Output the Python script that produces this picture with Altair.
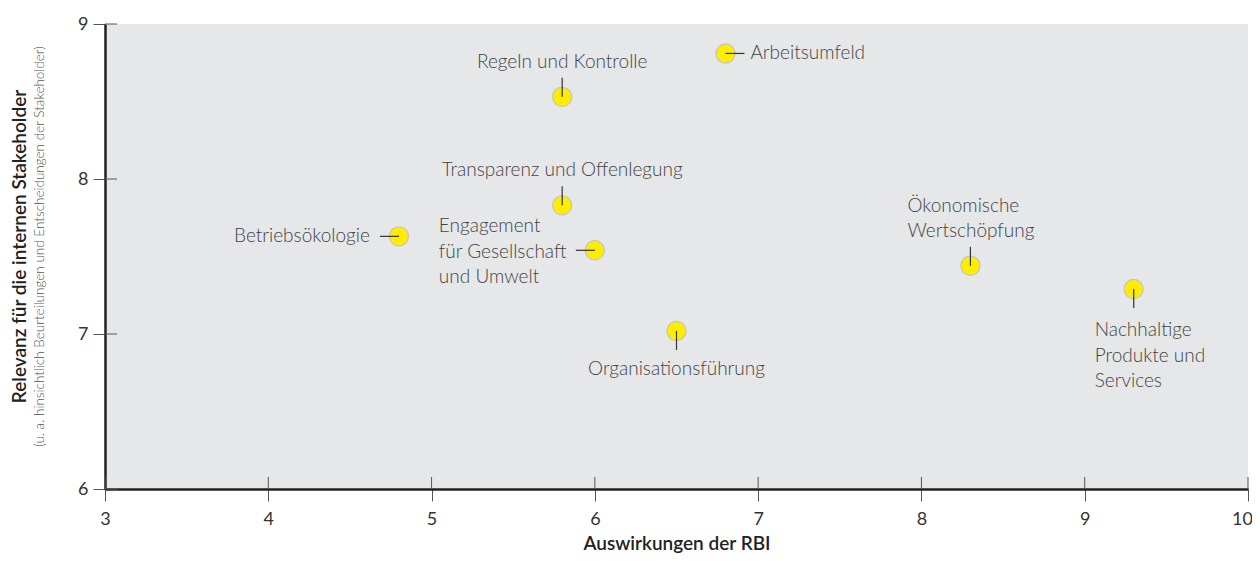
import altair as alt
import pandas as pd

# ---- data ----
topics = [
    "Arbeitsumfeld",
    "Regeln und Kontrolle",
    "Transparenz und Offenlegung",
    "Betriebsökologie",
    "Engagement\nfür Gesellschaft\nund Umwelt",
    "Organisationsführung",
    "Ökonomische\nWertschöpfung",
    "Nachhaltige\nProdukte und\nServices",
]
impact = [6.8, 5.8, 5.8, 4.8, 6.0, 6.5, 8.3, 9.3]
relevance = [8.81, 8.53, 7.83, 7.63, 7.54, 7.02, 7.44, 7.29]
x_ticks = [3, 4, 5, 6, 7, 8, 9, 10]
y_ticks = [6, 7, 8, 9]

df = pd.DataFrame({"topic": topics, "impact": impact, "relevance": relevance})
df_xt = pd.DataFrame({"v": x_ticks})
df_yt = pd.DataFrame({"v": y_ticks})

# label placement (style): leader direction, text align, dx, dy (first line)
layout = {
    "Arbeitsumfeld": ("right", "left", 25, 0),
    "Regeln und Kontrolle": ("up", "center", 0, -35),
    "Transparenz und Offenlegung": ("up", "center", 0, -35),
    "Betriebsökologie": ("left", "right", -29, 0),
    "Engagement\nfür Gesellschaft\nund Umwelt": ("left", "left", -156, -24),
    "Organisationsführung": ("down", "center", 0, 38),
    "Ökonomische\nWertschöpfung": ("up", "left", -63, -60),
    "Nachhaltige\nProdukte und\nServices": ("down", "left", -39, 41),
}

FONT = "Lato"
TEXT_COL = "#444444"
LEAD = 19

xs = alt.Scale(domain=[3, 10], nice=False, zero=False)
ys = alt.Scale(domain=[6, 9], nice=False, zero=False)

base = alt.Chart(df)

points = base.mark_circle(
    size=370, color="#ffed00", opacity=1, stroke="#c4c4c4", strokeWidth=1.2
).encode(
    x=alt.X("impact:Q", scale=xs,
            axis=alt.Axis(values=x_ticks, format="d", title="Auswirkungen der RBI",
                          labelFlush=False,
                          labelOffset=alt.condition("datum.value == 10",
                                                    alt.value(-6), alt.value(0)))),
    y=alt.Y("relevance:Q", scale=ys,
            axis=alt.Axis(values=y_ticks, format="d", title=None)),
)

layers = [points]
for name, (direction, align, dx, dy) in layout.items():
    sub = base.transform_filter(alt.datum.topic == name)
    if direction in ("up", "down"):
        off = -LEAD if direction == "up" else LEAD
        rule = sub.mark_rule(color="#333333", strokeWidth=1.2, y2Offset=off).encode(
            x=alt.X("impact:Q", scale=xs),
            y=alt.Y("relevance:Q", scale=ys),
            y2="relevance:Q",
        )
    else:
        off = LEAD if direction == "right" else -LEAD
        rule = sub.mark_rule(color="#333333", strokeWidth=1.2, x2Offset=off).encode(
            x=alt.X("impact:Q", scale=xs),
            x2="impact:Q",
            y=alt.Y("relevance:Q", scale=ys),
        )
    txt = sub.mark_text(
        align=align, baseline="middle", dx=dx, dy=dy, font=FONT,
        fontWeight=300, fontSize=19, color=TEXT_COL, lineBreak="\n", lineHeight=25.5,
    ).encode(
        x=alt.X("impact:Q", scale=xs),
        y=alt.Y("relevance:Q", scale=ys),
        text="topic:N",
    )
    layers += [rule, txt]

# inner halves of the crossing tick marks
xt_inner = alt.Chart(df_xt).mark_rule(color="#555555", strokeWidth=1, y2Offset=-12).encode(
    x=alt.X("v:Q", scale=xs),
    y=alt.datum(6, scale=ys),
    y2=alt.datum(6),
)
yt_inner = alt.Chart(df_yt).mark_rule(color="#555555", strokeWidth=1, x2Offset=12).encode(
    y=alt.Y("v:Q", scale=ys),
    x=alt.datum(3, scale=xs),
    x2=alt.datum(3),
)
layers += [xt_inner, yt_inner]

chart = alt.layer(*layers).properties(
    width=1143,
    height=465,
    autosize=alt.AutoSizeParams(type="none"),
    padding={"left": 97, "top": 16, "right": 4, "bottom": 64},
    title=alt.TitleParams(
        text="Relevanz für die internen Stakeholder",
        subtitle="(u. a. hinsichtlich Beurteilungen und Entscheidungen der Stakeholder)",
        orient="left", anchor="middle", font=FONT, fontSize=19, fontWeight=600,
        color="#222222", subtitleFont=FONT, subtitleFontSize=13.5,
        subtitleFontWeight=300, subtitleColor="#555555", offset=31,
        subtitlePadding=3, dx=10,
    ),
).configure_view(
    fill="#e6e7e9", stroke=None
).configure_axis(
    grid=False, domainColor="#222222", domainWidth=2.5, tickColor="#555555",
    tickSize=12, tickWidth=1, labelFont=FONT, labelFontSize=18,
    labelColor="#333333", labelPadding=9, titleFont=FONT, titleFontSize=19,
    titleFontWeight=600, titleColor="#222222",
).configure_axisX(titlePadding=6).configure_axisY(labelPadding=5)

chart.save("out.html", embed_options={"renderer": "svg", "actions": False})
